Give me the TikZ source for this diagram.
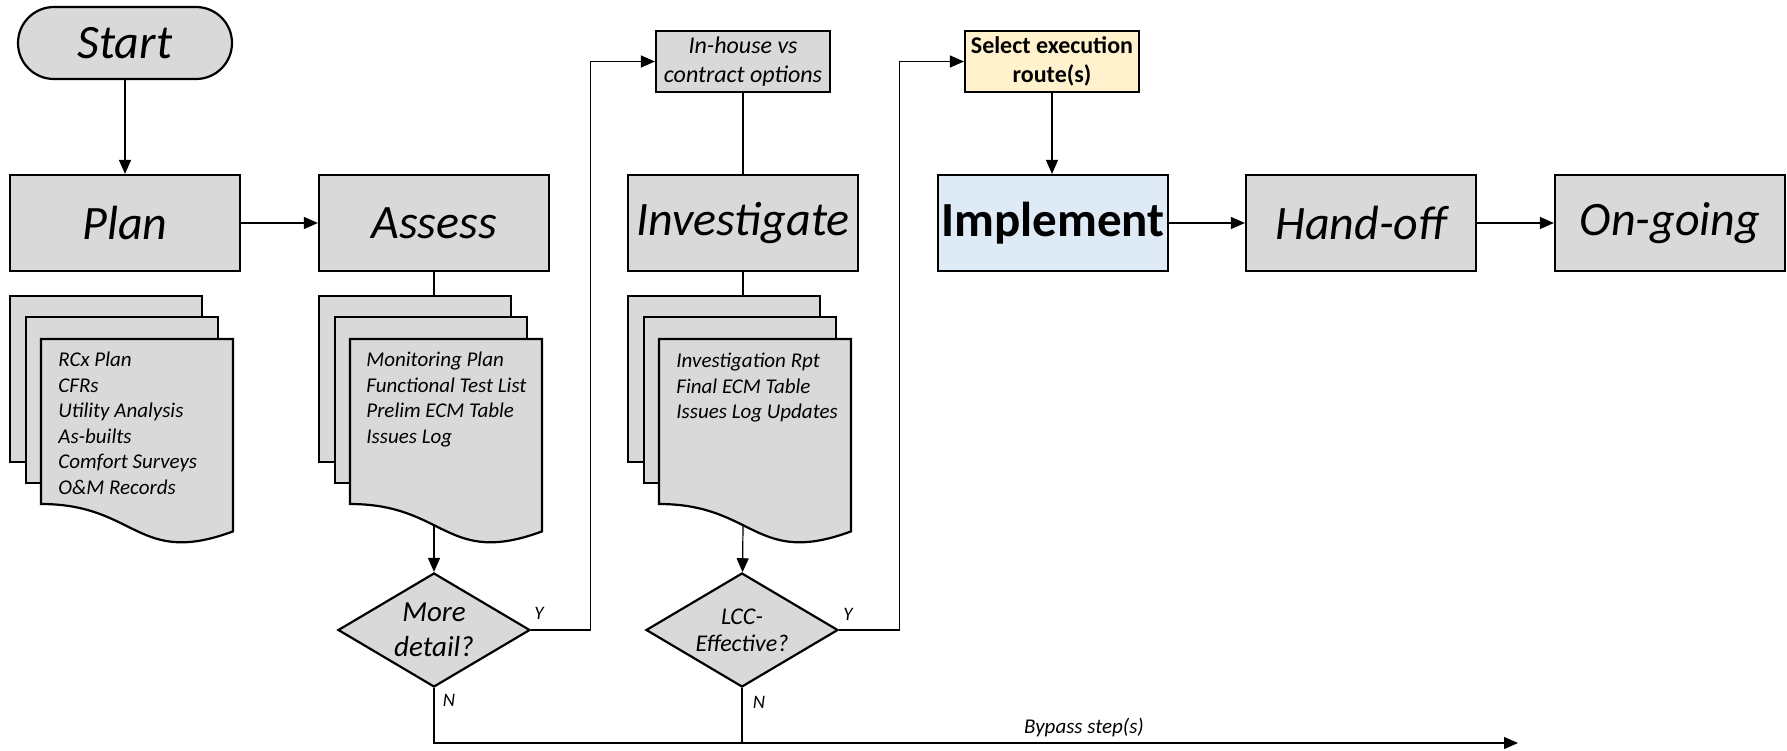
\documentclass[tikz,border=0pt]{standalone}
\usepackage{fontspec}
\setmainfont{Carlito}
\usetikzlibrary{arrows.meta,shapes.geometric}

\definecolor{boxgray}{HTML}{D9D9D9}
\definecolor{implblue}{HTML}{DEEBF7}
\definecolor{selyellow}{HTML}{FFF2CC}

% three stacked sheets, #1 = left edge, #2 = name
\newcommand{\docstack}[2]{%
  \draw[sheet] ({#1},296) rectangle ({#1+192},462);
  \draw[sheet] ({#1+16},317) rectangle ({#1+208},483);
  \draw[sheet] ({#1+31},339) -- ({#1+223},339) -- ({#1+223},531.4)
    .. controls ({#1+127},567) and ({#1+127},504) .. ({#1+31},504) -- cycle;
  \coordinate (#2top) at ({#1+115},296);
  \coordinate (#2bot) at ({#1+115},524);
}

\begin{document}
\begin{tikzpicture}[x=0.5pt,y=-0.5pt,
    phase/.style={draw,line width=1.1pt,fill=boxgray,minimum width=115pt,
      minimum height=48pt,inner sep=0pt,font=\fontsize{24}{28}\selectfont\itshape},
    smallbox/.style={draw,line width=1.1pt,fill=boxgray,minimum width=87pt,
      minimum height=30.5pt,inner sep=0pt,align=center,
      font=\fontsize{12}{14.5}\selectfont\itshape},
    sheet/.style={draw,line width=1.1pt,fill=boxgray},
    sheettext/.style={anchor=north west,inner sep=0pt,align=left,
      font=\fontsize{10.5}{12.75}\selectfont\itshape},
    decision/.style={draw,diamond,aspect=1.684,line width=1.1pt,fill=boxgray,
      inner sep=0pt,minimum width=96pt,minimum height=57pt,align=center},
    flow/.style={line width=0.6pt,-{Triangle[length=7pt,width=6pt]}},
    link/.style={line width=0.6pt},
    tag/.style={inner sep=0pt,font=\fontsize{9.5}{11}\selectfont\itshape}]
  \useasboundingbox (0,0) rectangle (1787,750);

  % top row
  \node[draw,line width=1.1pt,fill=boxgray,rounded corners=18pt,minimum width=107pt,
    minimum height=36pt,inner sep=0pt,font=\fontsize{24}{28}\selectfont\itshape]
    (start) at (125,43) {Start};
  \node[smallbox] (inhouse) at (743,61.5) {In-house vs\\contract options};
  \node[smallbox,fill=selyellow,font=\fontsize{12}{14.5}\selectfont\bfseries]
    (select) at (1052,61.5) {Select execution\\route(s)};

  % phases
  \node[phase] (plan) at (125,223) {Plan};
  \node[phase] (assess) at (434,223) {Assess};
  \node[phase] (invest) at (743,223) {Investigate};
  \node[phase,fill=implblue,font=\fontsize{24.5}{28}\selectfont\bfseries]
    (implement) at (1053,223) {Implement};
  \node[phase] (handoff) at (1361,223) {Hand-off};
  \node[phase] (ongoing) at (1670,223) {On-going};

  % documents
  \docstack{10}{plandocs}
  \docstack{319}{assessdocs}
  \docstack{628}{investdocs}
  \node[sheettext] (plantext) at (58,352)
    {RCx Plan\\CFRs\\Utility Analysis\\As-builts\\Comfort Surveys\\O\&M Records};
  \node[sheettext] (assesstext) at (366,352)
    {Monitoring Plan\\Functional Test List\\Prelim ECM Table\\Issues Log};
  \node[sheettext] (investtext) at (676,353)
    {Investigation Rpt\\Final ECM Table\\Issues Log Updates};

  % decisions
  \node[decision,font=\fontsize{14.5}{17.5}\selectfont\itshape]
    (detail) at (434,630) {More\\detail?};
  \node[decision,font=\fontsize{12}{13.5}\selectfont\itshape]
    (lcc) at (742,630) {LCC-\\Effective?};
  \coordinate (bypass) at (1518,743);

  % connectors
  \draw[flow] (start) -- (plan);
  \draw[flow] (plan) -- (assess);
  \draw[link] (assess) -- (assessdocstop);
  \draw[flow] (assessdocsbot) -- (detail);
  \draw[flow] (detail.east) -- ++(59,0) |- (inhouse.west);
  \draw[link] (inhouse) -- (invest);
  \draw[link] (invest) -- (investdocstop);
  \draw[flow] (investdocsbot) -- (lcc);
  \draw[flow] (lcc.east) -- ++(60,0) |- (select.west);
  \draw[flow] (select) -- (implement.north -| select);
  \draw[flow] (implement) -- (handoff);
  \draw[flow] (handoff) -- (ongoing);
  \draw[flow] (detail.south) |- (bypass);
  \draw[link] (lcc.south) -- (lcc.south |- bypass);

  % labels
  \node[tag] (detaily) at (539,613) {Y};
  \node[tag] (lccy) at (848,614) {Y};
  \node[tag] (detailn) at (449,700) {N};
  \node[tag] (lccn) at (759,702) {N};
  \node[tag,font=\fontsize{10.5}{12}\selectfont\itshape] (bypasstext) at (1084,728) {Bypass step(s)};
\end{tikzpicture}
\end{document}
